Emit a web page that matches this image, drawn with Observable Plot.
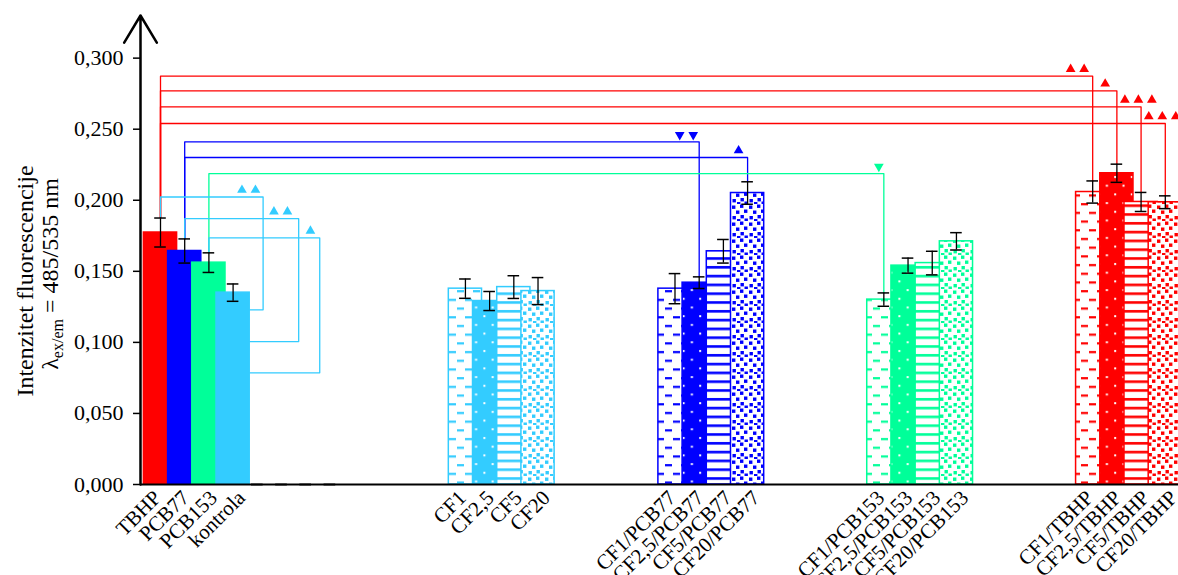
<!DOCTYPE html>
<html>
<head>
<meta charset="utf-8">
<script src="https://cdn.jsdelivr.net/npm/d3@7"></script>
<script src="https://cdn.jsdelivr.net/npm/@observablehq/plot@0.6"></script>
<style>
  html, body { margin: 0; padding: 0; background: #fff; }
</style>
</head>
<body>
<div id="chart"></div>
<script>
// ---------------- DATA ----------------
const labels = [
  "TBHP", "PCB77", "PCB153", "kontrola",
  "CF1", "CF2,5", "CF5", "CF20",
  "CF1/PCB77", "CF2,5/PCB77", "CF5/PCB77", "CF20/PCB77",
  "CF1/PCB153", "CF2,5/PCB153", "CF5/PCB153", "CF20/PCB153",
  "CF1/TBHP", "CF2,5/TBHP", "CF5/TBHP", "CF20/TBHP"
];
const means = [
  0.1773, 0.1643, 0.1561, 0.1350,
  0.1378, 0.1291, 0.1389, 0.1361,
  0.1378, 0.1420, 0.1641, 0.2051,
  0.1301, 0.1540, 0.1558, 0.1711,
  0.2058, 0.2190, 0.1988, 0.1986
];
const sds = [
  0.0102, 0.0085, 0.0069, 0.0061,
  0.0068, 0.0067, 0.0080, 0.0095,
  0.0106, 0.0041, 0.0083, 0.0079,
  0.0047, 0.0053, 0.0083, 0.0061,
  0.0078, 0.0064, 0.0067, 0.0045
];
// four empty categories after "kontrola" (value 0, only error caps visible)
const blankMeans = [0, 0, 0, 0];
const blankSds = [0, 0, 0, 0];

const yTicks = [0, 0.05, 0.1, 0.15, 0.2, 0.25, 0.3];

// significance brackets
const bracketFrom  = ["TBHP", "TBHP", "TBHP", "TBHP", "PCB77", "PCB77", "PCB153", "TBHP", "PCB77", "PCB153"];
const bracketTo    = ["CF1/TBHP", "CF2,5/TBHP", "CF5/TBHP", "CF20/TBHP", "CF2,5/PCB77", "CF20/PCB77", "CF1/PCB153", "kontrola", "kontrola", "kontrola"];
const bracketLevel = [0.2873, 0.2770, 0.2657, 0.2540, 0.2411, 0.2301, 0.2188, 0.2023, 0.1871, 0.1735];
const bracketMarks = ["▲▲", "▲", "▲▲▲", "▲▲▲", "▼▼", "▲", "▼", "▲▲", "▲▲", "▲"];
// level at which the kontrola brackets join the side of the kontrola bar
const kontrolaJoin = [0.1229, 0.1006, 0.0786];

// ---------------- LAYOUT / STYLE ----------------
const STEP_PX = 24.2;                          // px between neighbouring bars
const groupStart = [0, 12.6, 21.26, 29.89, 38.52]; // slot units
const HALF = 16.6 / STEP_PX;                  // half bar width
const CAP = 5.8 / STEP_PX;                    // half error cap width
const LABEL_STEP = 28 / STEP_PX;              // label spacing
const LABEL_SHIFT = -3 / STEP_PX;
const kontrolaRight = [4.24, 5.71, 6.58];     // x of the bracket drop
const markShiftPx = [-15.3, -11.7, -2.7, -3, -12.7, -9, -5, -14.4, -18, -9.3];
const MARK_GAP = 13.5 / STEP_PX;

const soloColors = ["#FF0000", "#0000FF", "#00FF99", "#33CCFF"];
const groupColors = [null, "#33CCFF", "#0000FF", "#00FF99", "#FF0000"];
const patternNames = ["dash", "dots", "stripes", "confetti"];

// ---------------- BUILD ----------------
const bars = labels.map((label, i) => {
  const g = Math.floor(i / 4), j = i % 4;
  const color = g === 0 ? soloColors[j] : groupColors[g];
  return {
    label, mean: means[i], sd: sds[i], g, j,
    pos: groupStart[g] + j,
    labelPos: groupStart[g] + 1.5 + (j - 1.5) * LABEL_STEP + LABEL_SHIFT,
    color,
    fill: g === 0 ? color : `url(#${patternNames[j]}-${g})`
  };
});
const blanks = blankMeans.map((m, k) => ({mean: m, sd: blankSds[k], pos: 4 + k}));
const errs = bars.concat(blanks);
const byLabel = new Map(bars.map(d => [d.label, d]));

const bracketPts = [];
const markPts = [];
bracketFrom.forEach((from, k) => {
  const A = byLabel.get(from), B = byLabel.get(bracketTo[k]);
  const L = bracketLevel[k];
  const color = B.color;
  let dropX;
  if (bracketTo[k] === "kontrola") {
    const kk = k - 7;
    dropX = kontrolaRight[kk];
    bracketPts.push(
      {k, color, x: A.pos, y: A.mean + A.sd},
      {k, color, x: A.pos, y: L},
      {k, color, x: dropX, y: L},
      {k, color, x: dropX, y: kontrolaJoin[kk]},
      {k, color, x: B.pos + HALF, y: kontrolaJoin[kk]}
    );
  } else {
    dropX = B.pos;
    bracketPts.push(
      {k, color, x: A.pos, y: A.mean + A.sd},
      {k, color, x: A.pos, y: L},
      {k, color, x: B.pos, y: L},
      {k, color, x: B.pos, y: B.mean + B.sd}
    );
  }
  const chars = Array.from(bracketMarks[k]);
  const n = chars.length;
  const cx = dropX + markShiftPx[k] / STEP_PX;
  chars.forEach((c, m) => {
    markPts.push({color, x: cx + (m - (n - 1) / 2) * MARK_GAP, y: L, rot: c === "▼" ? 180 : 0});
  });
});

const W = 1178, H = 575;
const mL = 140, mR = 0, mT = 15, mB = 91;
const xDomain = [-20 / STEP_PX, (W - 160) / STEP_PX];

const fmt = d => d.toFixed(3).replace(".", ",");

const svg = Plot.plot({
  width: W, height: H,
  marginLeft: mL, marginRight: mR, marginTop: mT, marginBottom: mB,
  style: {fontFamily: "'Liberation Serif', 'Times New Roman', serif", fontSize: "22px", background: "#fff", color: "#000"},
  x: {type: "linear", domain: xDomain, axis: null},
  y: {domain: [0, 0.33], axis: null},
  color: {type: "identity"},
  marks: [
    // bars (drawn in order so later bars overlap earlier ones)
    Plot.rectY(bars, {x1: d => d.pos - HALF, x2: d => d.pos + HALF, y1: 0, y2: "mean",
      fill: "fill", stroke: "color", strokeWidth: 1.5}),
    // significance brackets
    Plot.line(bracketPts, {x: "x", y: "y", z: "k", stroke: "color", strokeWidth: 1.3, curve: "linear"}),
    Plot.dot(markPts, {x: "x", y: "y", dy: -7, symbol: "triangle", r: 3.6, fill: "color", stroke: null, rotate: "rot"}),
    // error bars
    Plot.ruleX(errs, {x: "pos", y1: d => d.mean - d.sd, y2: d => d.mean + d.sd, stroke: "#000", strokeWidth: 1.3}),
    Plot.ruleY(errs, {y: d => d.mean + d.sd, x1: d => d.pos - CAP, x2: d => d.pos + CAP, stroke: "#000", strokeWidth: 1.5}),
    Plot.ruleY(errs, {y: d => d.mean - d.sd, x1: d => d.pos - CAP, x2: d => d.pos + CAP, stroke: "#000", strokeWidth: 1.5}),
    // x axis baseline
    Plot.ruleY([0], {stroke: "#000", strokeWidth: 2}),
    // y axis with arrow
    Plot.arrow([{x: xDomain[0], y1: 0, y2: 0.33}], {x1: "x", x2: "x", y1: "y1", y2: "y2",
      stroke: "#000", strokeWidth: 2.5, headLength: 19, headAngle: 62}),
    Plot.axisY(yTicks, {tickSize: 7, tickPadding: 10, tickFormat: fmt, label: null, stroke: "#000", strokeWidth: 1.5, fill: "#000"}),
    // category labels
    Plot.text(bars, {x: "labelPos", y: 0, text: "label", rotate: -45, textAnchor: "end",
      lineAnchor: "top", dy: 4, fontSize: 21, fill: "#000"})
  ]
});

// patterns
const defs = d3.select(svg).insert("defs", ":first-child");
for (let g = 1; g < groupColors.length; g++) {
  const col = groupColors[g];
  // dashed
  let p = defs.append("pattern").attr("id", `dash-${g}`).attr("patternUnits", "userSpaceOnUse")
    .attr("width", 16).attr("height", 17.4);
  p.append("rect").attr("width", 16).attr("height", 17.4).attr("fill", "#fff");
  p.append("rect").attr("x", 1).attr("y", 3).attr("width", 7).attr("height", 2.2).attr("fill", col);
  p.append("rect").attr("x", 9).attr("y", 11.7).attr("width", 7).attr("height", 2.2).attr("fill", col);
  // dots
  p = defs.append("pattern").attr("id", `dots-${g}`).attr("patternUnits", "userSpaceOnUse")
    .attr("width", 16.6).attr("height", 17.4);
  p.append("rect").attr("width", 16.6).attr("height", 17.4).attr("fill", col);
  p.append("rect").attr("x", 2).attr("y", 2).attr("width", 2).attr("height", 2).attr("fill", "#fff");
  p.append("rect").attr("x", 10.3).attr("y", 10.7).attr("width", 2).attr("height", 2).attr("fill", "#fff");
  // stripes
  p = defs.append("pattern").attr("id", `stripes-${g}`).attr("patternUnits", "userSpaceOnUse")
    .attr("width", 10).attr("height", 8.8);
  p.append("rect").attr("width", 10).attr("height", 8.8).attr("fill", "#fff");
  p.append("rect").attr("x", 0).attr("y", 2).attr("width", 10).attr("height", 2.6).attr("fill", col);
  // confetti
  p = defs.append("pattern").attr("id", `confetti-${g}`).attr("patternUnits", "userSpaceOnUse")
    .attr("width", 17).attr("height", 17);
  p.append("rect").attr("width", 17).attr("height", 17).attr("fill", "#fff");
  [[1, 1.5], [9, 0.5], [5, 6.5], [13, 5.5], [1.5, 12], [9.5, 11], [13.5, 14.5], [6, 15]].forEach(([x, y]) => {
    p.append("rect").attr("x", x).attr("y", y).attr("width", 3.4).attr("height", 3.4).attr("fill", col);
  });
}

// y-axis title (two rotated lines, with subscript)
const sel = d3.select(svg);
sel.append("text")
  .attr("transform", "translate(33,281) rotate(-90)")
  .attr("text-anchor", "middle")
  .attr("fill", "#000")
  .attr("font-size", 24)
  .text("Intenzitet fluorescencije");
const t2 = sel.append("text")
  .attr("transform", "translate(58,274) rotate(-90)")
  .attr("text-anchor", "middle")
  .attr("fill", "#000")
  .attr("font-size", 24);
t2.append("tspan").text("λ");
t2.append("tspan").attr("dy", 5).attr("font-size", 16).text("ex/em");
t2.append("tspan").attr("dy", -5).text(" = 485/535 nm");

document.getElementById("chart").appendChild(svg);
</script>
</body>
</html>
